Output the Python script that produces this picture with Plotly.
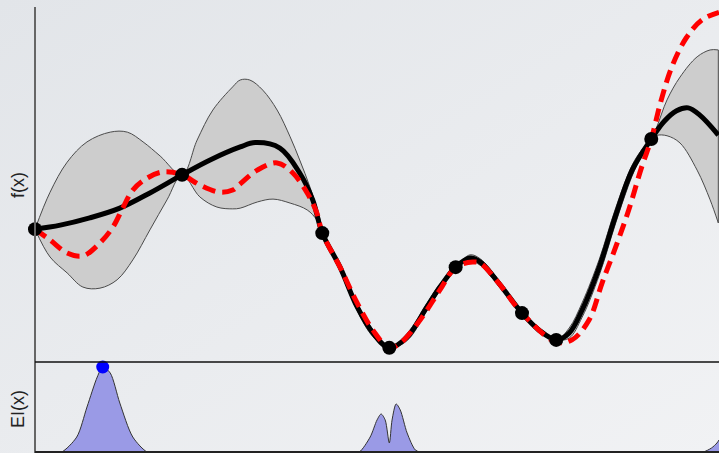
import urllib.parse
import plotly.graph_objects as go
from plotly.subplots import make_subplots

# ---- data (x in [0,100], f in [0,100], EI scaled so max = 100) ----
obs_x = [0, 21.5, 42.0, 51.8, 61.5, 71.2, 76.2, 90.1]
obs_f = [36.7, 51.7, 35.6, 3.9, 26.2, 13.5, 6.1, 61.6]

mean_x = [0, 3.7, 8.0, 12.4, 16.8, 21.5, 25.6, 30.0, 32.2, 35.8, 38.7, 40.6, 42.0,
          44.6, 47.1, 49.4, 51.8, 54.4, 57.3, 59.2, 61.5, 63.6, 65.1, 67.8, 71.2,
          73.7, 76.2, 78.1, 80.0, 82.5, 84.9, 87.3, 90.1, 92.0, 93.8, 95.5, 97.2, 99.9]
mean_f = [36.7, 37.8, 39.8, 42.5, 46.7, 51.7, 55.8, 59.4, 60.6, 59.1, 52.2, 44.8, 35.6,
          26.2, 15.2, 8.0, 3.9, 6.9, 15.2, 20.7, 26.2, 28.7, 27.6, 21.8, 13.5,
          8.8, 6.1, 8.0, 14.4, 26.2, 40.5, 53.0, 61.6, 66.5, 69.4, 70.2, 68.2, 62.7]

true_x = [0, 2.2, 4.7, 7.0, 9.5, 11.4, 12.9, 14.3, 16.4, 18.7, 21.5, 24.1, 27.0, 28.9,
          30.0, 32.5, 35.4, 37.7, 39.8, 41.2, 42.0, 44.6, 47.1, 49.4, 51.8, 53.4,
          56.3, 59.2, 61.5, 64.0, 65.1, 67.8, 71.2, 76.2, 78.5, 81.0, 82.9, 84.9,
          86.8, 88.7, 90.1, 91.5, 93.1, 95.2, 97.5, 100]
true_f = [36.7, 33.7, 30.1, 29.3, 32.9, 37.3, 42.8, 47.5, 50.8, 52.5, 51.7, 48.9, 46.9,
          47.5, 49.2, 53.0, 55.0, 52.2, 46.7, 41.2, 35.6, 26.2, 16.3, 8.8, 3.9, 5.2,
          11.6, 19.9, 26.2, 27.6, 27.3, 21.8, 13.5, 5.5, 6.1, 11.6, 21.8, 31.8,
          42.0, 53.9, 61.6, 72.0, 81.5, 89.5, 94.5, 96.6]

upper_x = [0, 2.2, 4.7, 7.6, 11.0, 13.5, 15.8, 18.3, 21.5, 23.7, 26.0, 28.9, 30.0, 31.4,
           33.3, 35.4, 37.3, 38.7, 40.2, 41.7, 42.0, 44.6, 47.1, 49.4, 51.8, 54.4,
           57.3, 59.2, 61.5, 63.6, 65.1, 67.8, 71.2, 73.7, 76.2, 78.1, 80.0, 82.5,
           84.9, 87.3, 88.7, 90.1, 90.9, 92.4, 94.3, 96.8, 98.7, 99.9]
upper_f = [36.7, 46.9, 55.2, 60.8, 63.5, 63.5, 60.8, 56.9, 51.7, 61.3, 69.6, 76.0, 77.9, 77.9,
           75.1, 69.6, 62.2, 55.8, 48.3, 39.2, 35.6, 27.2, 16.3, 9.0, 3.9, 7.9,
           16.2, 21.6, 26.2, 29.6, 28.5, 22.6, 13.5, 9.6, 6.1, 9.4, 16.4, 28.4,
           42.6, 54.4, 58.6, 61.6, 64.9, 72.4, 78.7, 84.3, 86.2, 86.2]

lower_x = [0, 2.2, 4.7, 7.0, 9.5, 12.0, 14.3, 16.8, 19.3, 21.5, 24.1, 26.6, 28.9, 30.0,
           32.5, 34.8, 37.3, 39.8, 41.2, 42.0, 44.6, 47.1, 49.4, 51.8, 54.4, 57.3,
           59.2, 61.5, 63.6, 65.1, 67.8, 71.2, 73.7, 76.2, 78.1, 80.0, 82.5, 84.9,
           87.3, 88.7, 90.1, 90.9, 92.4, 94.3, 96.8, 98.7, 99.9]
lower_f = [36.7, 29.0, 24.6, 20.7, 20.4, 22.7, 28.2, 36.5, 44.8, 51.7, 45.6, 42.8, 42.3, 42.5,
           44.2, 45.0, 43.9, 42.0, 39.2, 35.6, 25.2, 14.2, 7.0, 3.9, 5.9, 14.2,
           19.8, 26.2, 27.8, 26.7, 21.0, 13.5, 8.0, 6.1, 6.6, 12.4, 24.0, 38.4,
           51.4, 57.0, 61.6, 62.6, 62.5, 60.5, 53.0, 44.8, 38.4]

ei_x = [0, 3.0, 3.9, 6.1, 7.6, 9.1, 9.9, 11.0, 12.4, 14.3, 16.4, 17.5,
        46.5, 47.4, 49.0, 50.0, 50.6, 51.2, 51.8, 52.2, 52.8, 53.4, 54.4, 55.6, 56.3, 57.2,
        97.0, 97.7, 98.9, 99.7, 100]
ei_y = [0, 0, 0, 17.6, 52.9, 88.2, 100, 92.9, 57.6, 17.6, 0, 0,
        0, 0, 17.6, 37.6, 44.7, 37.6, 10.6, 37.6, 56.5, 49.4, 22.4, 2.4, 0, 0,
        0, 0, 4.7, 10.6, 14.1]

next_x = [9.9]
next_ei = [100]

# ---- figure ----
fig = make_subplots(rows=2, cols=1, shared_xaxes=True, vertical_spacing=0,
                    row_heights=[0.7991, 0.2009])

band_line = dict(color="#4a4a4a", width=1, shape="spline", smoothing=1.0)
fig.add_trace(go.Scatter(x=lower_x, y=lower_f, mode="lines", line=band_line,
                         hoverinfo="skip", showlegend=False), row=1, col=1)
fig.add_trace(go.Scatter(x=upper_x, y=upper_f, mode="lines", line=band_line,
                         fill="tonexty", fillcolor="#cdcdcd",
                         hoverinfo="skip", showlegend=False), row=1, col=1)
fig.add_trace(go.Scatter(x=[upper_x[-1], lower_x[-1]], y=[upper_f[-1], lower_f[-1]],
                         mode="lines", line=dict(color="#4a4a4a", width=1),
                         hoverinfo="skip", showlegend=False), row=1, col=1)
fig.add_trace(go.Scatter(x=mean_x, y=mean_f, mode="lines",
                         line=dict(color="black", width=5, shape="spline", smoothing=1.0),
                         showlegend=False), row=1, col=1)
fig.add_trace(go.Scatter(x=true_x, y=true_f, mode="lines",
                         line=dict(color="#ff0000", width=5, dash="13px,7px",
                                   shape="spline", smoothing=1.0),
                         showlegend=False), row=1, col=1)
fig.add_trace(go.Scatter(x=obs_x, y=obs_f, mode="markers",
                         marker=dict(color="black", size=14), cliponaxis=False,
                         showlegend=False), row=1, col=1)

fig.add_trace(go.Scatter(x=ei_x, y=ei_y, mode="lines", fill="tozeroy",
                         fillcolor="#9a9ae6",
                         line=dict(color="#333333", width=1, shape="spline", smoothing=0.8),
                         showlegend=False), row=2, col=1)
fig.add_trace(go.Scatter(x=next_x, y=next_ei, mode="markers",
                         marker=dict(color="#0000ff", size=13), cliponaxis=False,
                         showlegend=False), row=2, col=1)

ax_common = dict(showgrid=False, zeroline=False, showticklabels=False, ticks="",
                 showline=False, fixedrange=True)
fig.update_xaxes(range=[-5.117, 100], **ax_common)
fig.update_yaxes(**ax_common)
fig.update_yaxes(range=[0, 100], row=1, col=1)
fig.update_yaxes(range=[-1.18, 105.9], row=2, col=1)

# axis frame lines
fig.add_shape(type="line", xref="paper", yref="paper", x0=35/719, x1=35/719,
              y0=0, y1=1 - 7/453, line=dict(color="#666666", width=2))
fig.add_shape(type="line", xref="paper", yref="paper", x0=35/719, x1=1,
              y0=1 - 362/453, y1=1 - 362/453, line=dict(color="#111111", width=1.5))
fig.add_shape(type="line", xref="paper", yref="paper", x0=35/719, x1=1,
              y0=1 - 452/453, y1=1 - 452/453, line=dict(color="#222222", width=2))

lab_font = dict(family="Liberation Sans, Arial", size=18, color="#222222")
fig.add_annotation(text="f(x)", xref="paper", yref="paper", x=18/719, y=1 - 185/453,
                   xanchor="center", yanchor="middle",
                   textangle=-90, showarrow=False, font=lab_font)
fig.add_annotation(text="EI(x)", xref="paper", yref="paper", x=18/719, y=1 - 409/453,
                   xanchor="center", yanchor="middle",
                   textangle=-90, showarrow=False, font=lab_font)

# subtle slide-style background gradient
svg = ('<svg xmlns="http://www.w3.org/2000/svg" width="719" height="453">'
       '<defs><linearGradient id="g" x1="0" y1="0" x2="1" y2="1">'
       '<stop offset="0" stop-color="#e2e5e9"/><stop offset="1" stop-color="#f1f2f4"/>'
       '</linearGradient></defs><rect width="719" height="453" fill="url(#g)"/></svg>')
bg_src = "data:image/svg+xml;charset=utf-8," + urllib.parse.quote(svg)
fig.add_layout_image(source=bg_src, xref="paper", yref="paper", x=0, y=1,
                     sizex=1, sizey=1, xanchor="left", yanchor="top",
                     sizing="stretch", layer="below")

fig.update_layout(width=719, height=453, margin=dict(l=0, r=0, t=0, b=0),
                  paper_bgcolor="#eaecef", plot_bgcolor="rgba(0,0,0,0)",
                  showlegend=False)

fig.write_html("out.html", config={"displayModeBar": False},
               post_script="document.body.style.margin='0';document.body.style.padding='0';")
